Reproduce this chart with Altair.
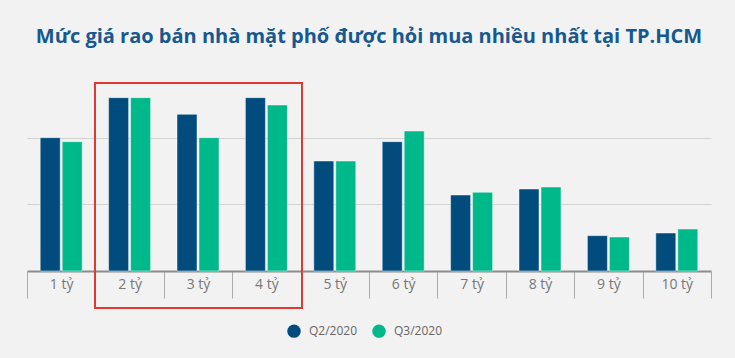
import altair as alt
import pandas as pd

categories = ["1 tỷ", "2 tỷ", "3 tỷ", "4 tỷ", "5 tỷ", "6 tỷ", "7 tỷ", "8 tỷ", "9 tỷ", "10 tỷ"]
q2_values = [2.00, 2.60, 2.35, 2.60, 1.65, 1.94, 1.14, 1.23, 0.53, 0.57]
q3_values = [1.94, 2.60, 2.00, 2.49, 1.65, 2.10, 1.18, 1.26, 0.51, 0.63]
series = ["Q2/2020", "Q3/2020"]
colors = ["#014c7c", "#00b98a"]

rows = []
for c, a, b in zip(categories, q2_values, q3_values):
    rows.append({"cat": c, "series": series[0], "value": a})
    rows.append({"cat": c, "series": series[1], "value": b})
df = pd.DataFrame(rows)

FONT = "Open Sans"

bars = alt.Chart(df).mark_bar(width=20, stroke="#ffffff", strokeWidth=1, strokeOpacity=0.45).encode(
    x=alt.X("cat:N", sort=categories, title=None,
            scale=alt.Scale(paddingInner=0, paddingOuter=0),
            axis=alt.Axis(labelAngle=0, labelFontSize=14, labelColor="#777777", labelFont=FONT,
                          tickBand="extent", tickSize=27, tickColor="#aaaaaa", tickWidth=1,
                          domainColor="#8c8c8c", domainWidth=2, labelPadding=-21, grid=False)),
    xOffset=alt.XOffset("series:N", sort=series, scale=alt.Scale(paddingInner=0, paddingOuter=0.555)),
    y=alt.Y("value:Q", title=None, scale=alt.Scale(domain=[0, 3], nice=False),
            axis=alt.Axis(values=[1, 2], labels=False, ticks=False, domain=False,
                          gridColor="#d2d2d2", gridWidth=1)),
    color=alt.Color("series:N", sort=series, scale=alt.Scale(domain=series, range=colors),
                    legend=alt.Legend(title=None, orient="none", legendX=260, legendY=253,
                                      direction="horizontal", symbolType="circle", symbolSize=180,
                                      symbolStrokeWidth=0, labelFontSize=12, labelColor="#666666",
                                      labelFont=FONT, columnPadding=14, labelOffset=8)),
)

box = alt.Chart(pd.DataFrame({"a": [0]})).mark_rect(fill=None, stroke="#e0392f", strokeWidth=2).encode(
    x=alt.value(68), x2=alt.value(275), y=alt.value(12), y2=alt.value(237)
)

chart = alt.layer(bars, box).properties(
    width=684, height=200,
    background="#f2f2f2",
    padding={"left": 27, "top": 71, "right": 24, "bottom": 87},
    autosize=alt.AutoSizeParams(type="none"),
    title=alt.TitleParams("Mức giá rao bán nhà mặt phố được hỏi mua nhiều nhất tại TP.HCM",
                          font=FONT, fontSize=20, fontWeight="bold", color="#17588f",
                          anchor="middle", offset=24),
).configure_view(stroke=None)

chart.save("out.html", embed_options={"renderer": "svg", "actions": False})
